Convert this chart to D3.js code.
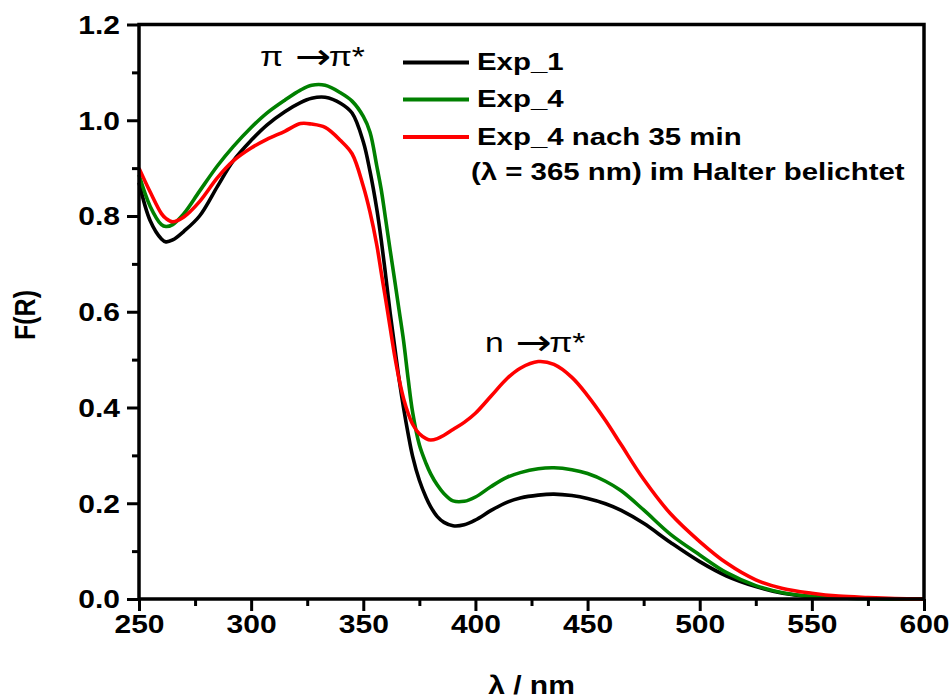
<!DOCTYPE html>
<html>
<head>
<meta charset="utf-8">
<script src="https://cdn.jsdelivr.net/npm/d3@7"></script>
<style>
  html, body { margin: 0; padding: 0; background: #fff; }
  svg { display: block; }
  text { font-family: "Liberation Sans", Arial, sans-serif; fill: #000; }
</style>
</head>
<body>
<svg id="chart" width="951" height="700"></svg>
<script>
// ---- data ----
const wavelengths = [250,255,260,262,265,270,277,285,292,300,307,315,322,327,333,340,345,350,353,356,358,360,362,364,366,368,370,372,375,378,380,383,386,390,395,400,407,414,420,428,435,443,450,458,465,475,487,500,512,525,537,550,562,575,587,600];

const exp1 = [0.870,0.790,0.752,0.746,0.750,0.768,0.800,0.862,0.915,0.958,0.990,1.018,1.037,1.046,1.048,1.035,1.015,0.955,0.893,0.815,0.750,0.675,0.597,0.527,0.458,0.398,0.345,0.298,0.248,0.212,0.193,0.172,0.160,0.153,0.155,0.165,0.185,0.202,0.211,0.217,0.219,0.216,0.210,0.199,0.185,0.158,0.118,0.078,0.048,0.026,0.012,0.005,0.002,0.001,0.000,0.000];

const exp4 = [0.886,0.820,0.782,0.778,0.782,0.805,0.852,0.905,0.945,0.985,1.015,1.042,1.063,1.073,1.073,1.057,1.040,1.008,0.975,0.905,0.855,0.792,0.728,0.666,0.602,0.538,0.460,0.390,0.322,0.283,0.262,0.238,0.220,0.205,0.204,0.213,0.235,0.254,0.264,0.272,0.274,0.270,0.262,0.246,0.226,0.186,0.135,0.092,0.055,0.028,0.013,0.005,0.002,0.001,0.000,0.000];

const exp4Irr = [0.900,0.850,0.805,0.795,0.788,0.798,0.830,0.880,0.915,0.942,0.960,0.977,0.993,0.992,0.985,0.957,0.930,0.862,0.808,0.740,0.682,0.625,0.566,0.508,0.458,0.418,0.388,0.365,0.345,0.335,0.332,0.335,0.342,0.354,0.369,0.388,0.424,0.460,0.482,0.496,0.490,0.463,0.425,0.373,0.322,0.250,0.178,0.120,0.075,0.040,0.022,0.012,0.006,0.003,0.001,0.000];

const seriesNames = ["Exp_1", "Exp_4", "Exp_4 nach 35 min"];
const seriesColors = ["#000000", "#008000", "#ff0000"];
const legendExtra = "(λ = 365 nm) im Halter belichtet";

const xTicks = [250,300,350,400,450,500,550,600];
const xMinorTicks = [275,325,375,425,475,525,575];
const yTicks = [0.0,0.2,0.4,0.6,0.8,1.0,1.2];
const yMinorTicks = [0.1,0.3,0.5,0.7,0.9,1.1];

const xTitle = "λ / nm";
const yTitle = "F(R)";
const band1 = "π →π*";
const band2 = "n →π*";

// ---- layout ----
const SX = 1.2; // horizontal text stretch seen in the reference
const pLeft = 139, pRight = 924, pTop = 24.5, pBottom = 599;

const svg = d3.select("#chart");
const x = d3.scaleLinear().domain([250, 600]).range([pLeft, pRight]);
const y = d3.scaleLinear().domain([0, 1.2]).range([pBottom, pTop]);

function label(xp, yp, str, size, weight, anchor, rotate) {
  return svg.append("text")
    .attr("transform", `translate(${xp},${yp}) scale(${SX},1)` + (rotate ? ` rotate(${rotate})` : ""))
    .attr("font-size", size)
    .attr("font-weight", weight)
    .attr("text-anchor", anchor || "start")
    .text(str);
}

function bandLabel(xp, yp, str) {
  const parts = str.split("→");
  const t = svg.append("text")
    .attr("transform", `translate(${xp},${yp}) scale(${SX},1)`)
    .attr("font-size", 28);
  t.append("tspan").text(parts[0]);
  t.append("tspan").attr("font-family", "DejaVu Sans").attr("font-size", 36)
    .attr("dy", 3).attr("dx", 2).text("→");
  t.append("tspan").attr("dy", -3).attr("dx", -2).text(parts[1]);
}

// curves
const data = [exp1, exp4, exp4Irr];
const line = d3.line()
  .x(d => x(d[0]))
  .y(d => y(d[1]))
  .curve(d3.curveCatmullRom.alpha(0.5));

svg.append("g").selectAll("path")
  .data(data)
  .join("path")
  .attr("d", vals => line(wavelengths.map((w, i) => [w, vals[i]])))
  .attr("fill", "none")
  .attr("stroke", (d, i) => seriesColors[i])
  .attr("stroke-width", 3.6)
  .attr("stroke-linejoin", "round");

// axes
function styleAxis(g) {
  g.select(".domain").remove();
  g.selectAll(".tick line").attr("stroke", "#000").attr("stroke-width", 3);
}

const gx = svg.append("g").attr("transform", `translate(0,${pBottom})`)
  .call(d3.axisBottom(x).tickValues(xTicks).tickSize(12).tickFormat(d3.format("d")));
styleAxis(gx);
gx.selectAll(".tick text")
  .attr("y", 0).attr("dy", 0)
  .attr("transform", `translate(0,34) scale(${SX},1)`)
  .attr("font-size", 25).attr("font-weight", "bold")
  .attr("font-family", "Liberation Sans, Arial, sans-serif").attr("fill", "#000");

const gxm = svg.append("g").attr("transform", `translate(0,${pBottom})`)
  .call(d3.axisBottom(x).tickValues(xMinorTicks).tickSize(7).tickFormat(""));
styleAxis(gxm);

const gy = svg.append("g").attr("transform", `translate(${pLeft},0)`)
  .call(d3.axisLeft(y).tickValues(yTicks).tickSize(12).tickFormat(d3.format(".1f")));
styleAxis(gy);
gy.selectAll(".tick text")
  .attr("x", 0).attr("dy", "0.35em")
  .attr("transform", `translate(-19,0) scale(${SX},1)`)
  .attr("font-size", 25).attr("font-weight", "bold")
  .attr("font-family", "Liberation Sans, Arial, sans-serif").attr("fill", "#000");

const gym = svg.append("g").attr("transform", `translate(${pLeft},0)`)
  .call(d3.axisLeft(y).tickValues(yMinorTicks).tickSize(7).tickFormat(""));
styleAxis(gym);

// frame
svg.append("rect")
  .attr("x", pLeft).attr("y", pTop)
  .attr("width", pRight - pLeft).attr("height", pBottom - pTop)
  .attr("fill", "none").attr("stroke", "#000").attr("stroke-width", 3.5);

// axis titles
label((pLeft + pRight) / 2, 694, xTitle, 25, "bold", "middle");
label(35, 315, yTitle, 25, "bold", "middle", -90);

// band labels
bandLabel(260, 66, band1);
bandLabel(485, 352, band2);

// legend
const legY = [62.5, 99.5, 137];
seriesNames.forEach((name, i) => {
  svg.append("line")
    .attr("x1", 403).attr("x2", 469)
    .attr("y1", legY[i]).attr("y2", legY[i])
    .attr("stroke", seriesColors[i]).attr("stroke-width", 4);
  label(477, legY[i] + 7.5, name, 24.5, "bold", "start");
});
label(471, 180, legendExtra, 24.5, "bold", "start");
</script>
</body>
</html>
